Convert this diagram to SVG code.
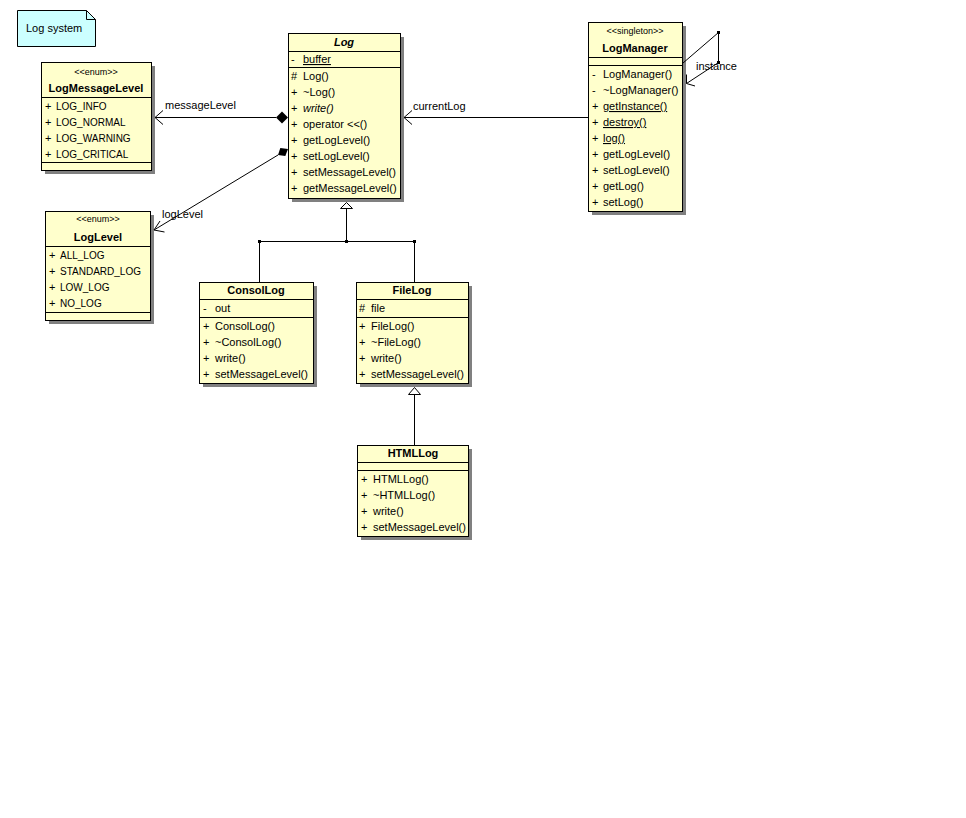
<svg xmlns="http://www.w3.org/2000/svg" width="966" height="818" viewBox="0 0 966 818">
<style>
  text { font-family: "Liberation Sans", Arial, sans-serif; font-size: 11px; fill: #000; }
  .st { font-size: 9px; text-anchor: middle; }
  .nm { font-weight: bold; text-anchor: middle; }
  .it { font-style: italic; }
  .ul { text-decoration: underline; }
  .en { font-size: 10px; }
  .box { fill: #FFFFCC; stroke: #000; stroke-width: 1; }
  .sh { fill: #808080; }
  .sep { stroke: #000; stroke-width: 1; }
  .ln { stroke: #000; stroke-width: 1; fill: none; }
  .tri { fill: #fff; stroke: #000; stroke-width: 1; }
  .dot { fill: #000; }
</style>
<rect width="966" height="818" fill="#fff"/>

<g id="note">
  <path d="M17.5,10.5 H86.5 L95.5,19.5 V46.5 H17.5 Z" fill="#CCFFFF" stroke="#000"/>
  <path d="M86.5,10.5 V19.5 H95.5" fill="none" stroke="#000"/>
  <text x="26" y="32">Log system</text>
</g>

<g id="LogMessageLevel">
  <rect class="sh" x="45" y="66" width="110" height="108"/>
  <rect class="box" x="41.5" y="62.5" width="110" height="108"/>
  <text class="st" x="96" y="75">&lt;&lt;enum&gt;&gt;</text>
  <text class="nm" x="96" y="92">LogMessageLevel</text>
  <line class="sep" x1="41" y1="97.5" x2="151" y2="97.5"/>
  <text x="45" y="110">+</text><text class="en" x="56" y="110">LOG_INFO</text>
  <text x="45" y="126">+</text><text class="en" x="56" y="126">LOG_NORMAL</text>
  <text x="45" y="142">+</text><text class="en" x="56" y="142">LOG_WARNING</text>
  <text x="45" y="158">+</text><text class="en" x="56" y="158">LOG_CRITICAL</text>
  <line class="sep" x1="41" y1="162.5" x2="151" y2="162.5"/>
</g>

<g id="Log">
  <rect class="sh" x="292" y="37" width="112" height="165"/>
  <rect class="box" x="288.5" y="33.5" width="112" height="165"/>
  <text class="nm it" x="344" y="46">Log</text>
  <line class="sep" x1="288" y1="51.5" x2="400" y2="51.5"/>
  <text x="291" y="63">-</text><text class="ul" x="303" y="63">buffer</text>
  <line class="sep" x1="288" y1="67.5" x2="400" y2="67.5"/>
  <text x="291" y="80">#</text><text x="303" y="80">Log()</text>
  <text x="291" y="96">+</text><text x="303" y="96">~Log()</text>
  <text x="291" y="112">+</text><text class="it" x="303" y="112">write()</text>
  <text x="291" y="128">+</text><text x="303" y="128">operator &lt;&lt;()</text>
  <text x="291" y="144">+</text><text x="303" y="144">getLogLevel()</text>
  <text x="291" y="160">+</text><text x="303" y="160">setLogLevel()</text>
  <text x="291" y="176">+</text><text x="303" y="176">setMessageLevel()</text>
  <text x="291" y="192">+</text><text x="303" y="192">getMessageLevel()</text>
</g>

<g id="LogManager">
  <rect class="sh" x="592" y="26" width="94" height="189"/>
  <rect class="box" x="588.5" y="22.5" width="94" height="189"/>
  <text class="st" x="635" y="34">&lt;&lt;singleton&gt;&gt;</text>
  <text class="nm" x="635" y="52">LogManager</text>
  <line class="sep" x1="588" y1="57.5" x2="682" y2="57.5"/>
  <line class="sep" x1="588" y1="65.5" x2="682" y2="65.5"/>
  <text x="592" y="78">-</text><text x="603" y="78">LogManager()</text>
  <text x="592" y="94">-</text><text x="603" y="94">~LogManager()</text>
  <text x="592" y="110">+</text><text class="ul" x="603" y="110">getInstance()</text>
  <text x="592" y="126">+</text><text class="ul" x="603" y="126">destroy()</text>
  <text x="592" y="142">+</text><text class="ul" x="603" y="142">log()</text>
  <text x="592" y="158">+</text><text x="603" y="158">getLogLevel()</text>
  <text x="592" y="174">+</text><text x="603" y="174">setLogLevel()</text>
  <text x="592" y="190">+</text><text x="603" y="190">getLog()</text>
  <text x="592" y="206">+</text><text x="603" y="206">setLog()</text>
</g>

<g id="LogLevel">
  <rect class="sh" x="49" y="215" width="105" height="109"/>
  <rect class="box" x="45.5" y="211.5" width="105" height="109"/>
  <text class="st" x="98" y="222">&lt;&lt;enum&gt;&gt;</text>
  <text class="nm" x="98" y="241">LogLevel</text>
  <line class="sep" x1="45" y1="246.5" x2="150" y2="246.5"/>
  <text x="49" y="259">+</text><text class="en" x="60" y="259">ALL_LOG</text>
  <text x="49" y="275">+</text><text class="en" x="60" y="275">STANDARD_LOG</text>
  <text x="49" y="291">+</text><text class="en" x="60" y="291">LOW_LOG</text>
  <text x="49" y="307">+</text><text class="en" x="60" y="307">NO_LOG</text>
  <line class="sep" x1="45" y1="312.5" x2="150" y2="312.5"/>
</g>

<g id="ConsolLog">
  <rect class="sh" x="203" y="286" width="114" height="101"/>
  <rect class="box" x="199.5" y="282.5" width="114" height="101"/>
  <text class="nm" x="256" y="294">ConsolLog</text>
  <line class="sep" x1="199" y1="299.5" x2="313" y2="299.5"/>
  <text x="203" y="312">-</text><text x="215" y="312">out</text>
  <line class="sep" x1="199" y1="317.5" x2="313" y2="317.5"/>
  <text x="203" y="330">+</text><text x="215" y="330">ConsolLog()</text>
  <text x="203" y="346">+</text><text x="215" y="346">~ConsolLog()</text>
  <text x="203" y="362">+</text><text x="215" y="362">write()</text>
  <text x="203" y="378">+</text><text x="215" y="378">setMessageLevel()</text>
</g>

<g id="FileLog">
  <rect class="sh" x="360" y="286" width="112" height="101"/>
  <rect class="box" x="356.5" y="282.5" width="112" height="101"/>
  <text class="nm" x="412" y="294">FileLog</text>
  <line class="sep" x1="356" y1="299.5" x2="468" y2="299.5"/>
  <text x="359" y="312">#</text><text x="371" y="312">file</text>
  <line class="sep" x1="356" y1="317.5" x2="468" y2="317.5"/>
  <text x="359" y="330">+</text><text x="371" y="330">FileLog()</text>
  <text x="359" y="346">+</text><text x="371" y="346">~FileLog()</text>
  <text x="359" y="362">+</text><text x="371" y="362">write()</text>
  <text x="359" y="378">+</text><text x="371" y="378">setMessageLevel()</text>
</g>

<g id="HTMLLog">
  <rect class="sh" x="361" y="449" width="111" height="91"/>
  <rect class="box" x="357.5" y="445.5" width="111" height="91"/>
  <text class="nm" x="413" y="457">HTMLLog</text>
  <line class="sep" x1="357" y1="462.5" x2="468" y2="462.5"/>
  <line class="sep" x1="357" y1="470.5" x2="468" y2="470.5"/>
  <text x="361" y="483">+</text><text x="373" y="483">HTMLLog()</text>
  <text x="361" y="499">+</text><text x="373" y="499">~HTMLLog()</text>
  <text x="361" y="515">+</text><text x="373" y="515">write()</text>
  <text x="361" y="531">+</text><text x="373" y="531">setMessageLevel()</text>
</g>

<g id="connectors">
  <!-- messageLevel -->
  <line class="ln" x1="276" y1="117.5" x2="155" y2="117.5"/>
  <polygon points="288,117.5 282,111.5 276,117.5 282,123.5" fill="#000"/>
  <polyline class="ln" points="163,110.5 155,117.5 163,124.5"/>
  <text x="165" y="109">messageLevel</text>
  <!-- logLevel -->
  <line class="ln" x1="278" y1="155" x2="154" y2="230"/>
  <polygon points="288,149 280.3,148 278,155 285.3,156" fill="#000"/>
  <polyline class="ln" points="160,221 154,230 164.5,232"/>
  <text x="162" y="218">logLevel</text>
  <!-- currentLog -->
  <line class="ln" x1="588" y1="117.5" x2="404" y2="117.5"/>
  <polyline class="ln" points="412,110.5 404,117.5 412,124.5"/>
  <text x="413" y="110">currentLog</text>
  <!-- instance -->
  <polyline class="ln" points="683,63 718.5,32.5 718.5,62.5 686.5,83.5"/>
  <rect class="dot" x="717" y="31" width="3" height="3"/>
  <rect class="dot" x="717" y="61" width="3" height="3"/>
  <polyline class="ln" points="686.5,74.5 686.5,83.5 695,86"/>
  <text x="696" y="70">instance</text>
  <!-- generalization to Log -->
  <polygon class="tri" points="346.5,202.5 340.5,208.5 352.5,208.5"/>
  <line class="ln" x1="346.5" y1="208.5" x2="346.5" y2="241.5"/>
  <line class="ln" x1="259" y1="241.5" x2="414.5" y2="241.5"/>
  <line class="ln" x1="259.5" y1="241.5" x2="259.5" y2="282"/>
  <line class="ln" x1="414.5" y1="241.5" x2="414.5" y2="282"/>
  <rect class="dot" x="258" y="240" width="3" height="3"/>
  <rect class="dot" x="345" y="240" width="3" height="3"/>
  <rect class="dot" x="413" y="240" width="3" height="3"/>
  <!-- generalization HTMLLog to FileLog -->
  <polygon class="tri" points="414.5,387.5 408.5,394.5 420.5,394.5"/>
  <line class="ln" x1="414.5" y1="394.5" x2="414.5" y2="445"/>
</g>
</svg>
